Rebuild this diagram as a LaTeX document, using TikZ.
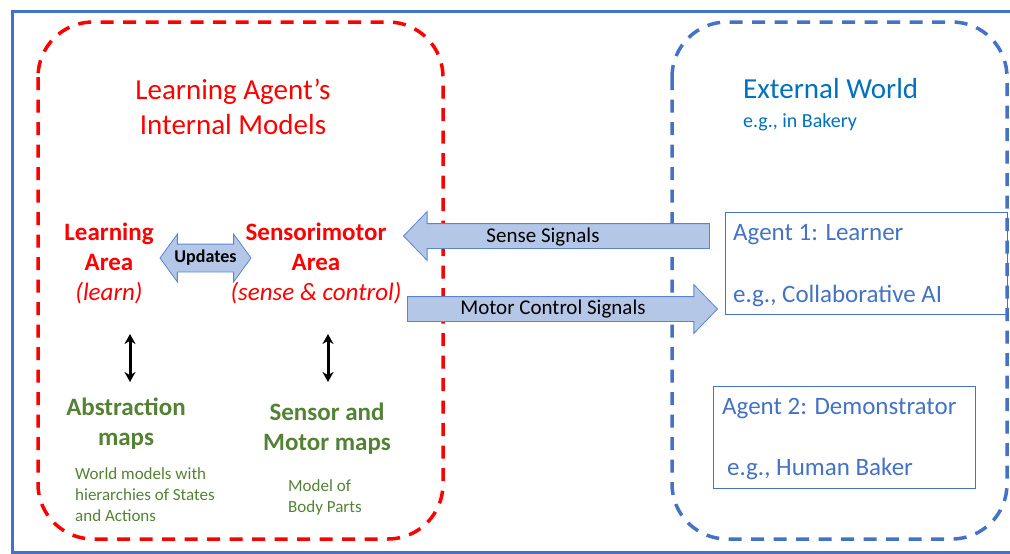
\documentclass[tikz,border=0pt]{standalone}
\usepackage{fontspec}
\setmainfont{Carlito}
\usetikzlibrary{positioning}
\usetikzlibrary{shapes.arrows}
\usetikzlibrary{arrows.meta}

\definecolor{agentred}{HTML}{FF0000}
\definecolor{worldblue}{HTML}{4472C4}
\definecolor{titleblue}{HTML}{0070C0}
\definecolor{mapgreen}{HTML}{548235}
\definecolor{sigfill}{HTML}{B4C7E7}
\definecolor{sigline}{HTML}{5B86CF}

\tikzset{
    region/.style={line width=3.5pt, dash pattern=on 13pt off 9.5pt, rounded corners=55pt},
    agentbox/.style={draw=worldblue, line width=1pt},
    sigarrow/.style={single arrow, draw=sigline, fill=sigfill, line width=0.8pt,
        inner xsep=0pt, inner ysep=12pt, single arrow head extend=12pt,
        single arrow tip angle=92},
    redhead/.style={text=agentred, inner sep=0pt, align=center,
        font=\fontsize{25}{30}\selectfont\bfseries},
    greenhead/.style={text=mapgreen, inner sep=0pt, align=center,
        font=\fontsize{25}{30}\selectfont\bfseries},
    greennote/.style={text=mapgreen, inner sep=0pt, align=left,
        font=\fontsize{17}{21}\selectfont},
    agenttext/.style={text=worldblue, inner sep=0pt,
        font=\fontsize{25}{30}\selectfont},
    maparrow/.style={line width=3pt, {Stealth[length=10pt,width=11pt]}-{Stealth[length=10pt,width=11pt]}}
}

\begin{document}
\begin{tikzpicture}[x=1pt,y=-1pt]
    \useasboundingbox (0,0) rectangle (1010,554);
    % frame and the two regions
    \draw[worldblue, line width=3pt] (12.5,11) rectangle (1030,552);
    \draw[region, agentred] (38,22) rectangle (443,539);
    \draw[region, worldblue] (672,22) rectangle (1007,539);

    % internal models (base = last line)
    \node[text=agentred, inner sep=0pt, align=center, anchor=base,
        font=\fontsize{29}{35}\selectfont] (models) at (233,134) {Learning Agent’s\\Internal Models};
    \node[redhead, anchor=base] (learnarea) at (109,300) {Learning\\Area\\{\mdseries\itshape (learn)}};
    \node[redhead, anchor=base] (sensearea) at (316,300) {Sensorimotor\\Area\\{\mdseries\itshape (sense \& control)}};
    \node[double arrow, draw=sigline, fill=sigfill, line width=0.8pt, inner xsep=0pt, inner ysep=5pt,
        text height=13pt, text depth=4pt, minimum height=91pt, double arrow head extend=10pt,
        double arrow tip angle=108, font=\fontsize{18}{20}\selectfont\bfseries] (updates) at (205.5,258) {Updates};

    \node[greenhead, anchor=base] (absmaps) at (126,445) {Abstraction\\maps};
    \node[greenhead, anchor=base] (motormaps) at (327,450) {Sensor and\\Motor maps};
    \node[greennote, anchor=base west] (absnote) at (75,521) {World models with\\hierarchies of States\\and Actions};
    \node[greennote, anchor=base west] (motornote) at (288,512) {Model of\\Body Parts};

    \coordinate (abstop) at (130,334);
    \coordinate (absbot) at (130,382);
    \coordinate (mottop) at (328,334);
    \coordinate (motbot) at (328,382);
    \draw[maparrow] (abstop) -- (absbot);
    \draw[maparrow] (mottop) -- (motbot);

    % external world
    \node[text=titleblue, inner sep=0pt, anchor=base west,
        font=\fontsize{29}{35}\selectfont] (world) at (743,98) {External World};
    \node[text=titleblue, inner sep=0pt, anchor=base west,
        font=\fontsize{20}{24}\selectfont] (bakery) at (743,127) {e.g., in Bakery};

    \draw[agentbox] (725,212) rectangle (1007,314);
    \node[agenttext, anchor=base west] (learner) at (733,240) {Agent 1: Learner};
    \node[agenttext, anchor=base west] (collab) at (733,302) {e.g., Collaborative AI};
    \draw[agentbox] (713,386) rectangle (975,488);
    \node[agenttext, anchor=base west] (demo) at (722,414) {Agent 2: Demonstrator};
    \node[agenttext, anchor=base west] (baker) at (727,475) {e.g., Human Baker};

    % signals
    \node[sigarrow, shape border rotate=180, minimum height=306pt, anchor=tip] (sense) at (403,236) {};
    \node[inner sep=0pt, anchor=base, font=\fontsize{21}{24}\selectfont] (senselabel) at (543,242) {Sense Signals};
    \node[sigarrow, minimum height=310pt, anchor=tip] (motor) at (718,309) {};
    \node[inner sep=0pt, anchor=base, font=\fontsize{21}{24}\selectfont] (motorlabel) at (553,314) {Motor Control Signals};
\end{tikzpicture}
\end{document}
